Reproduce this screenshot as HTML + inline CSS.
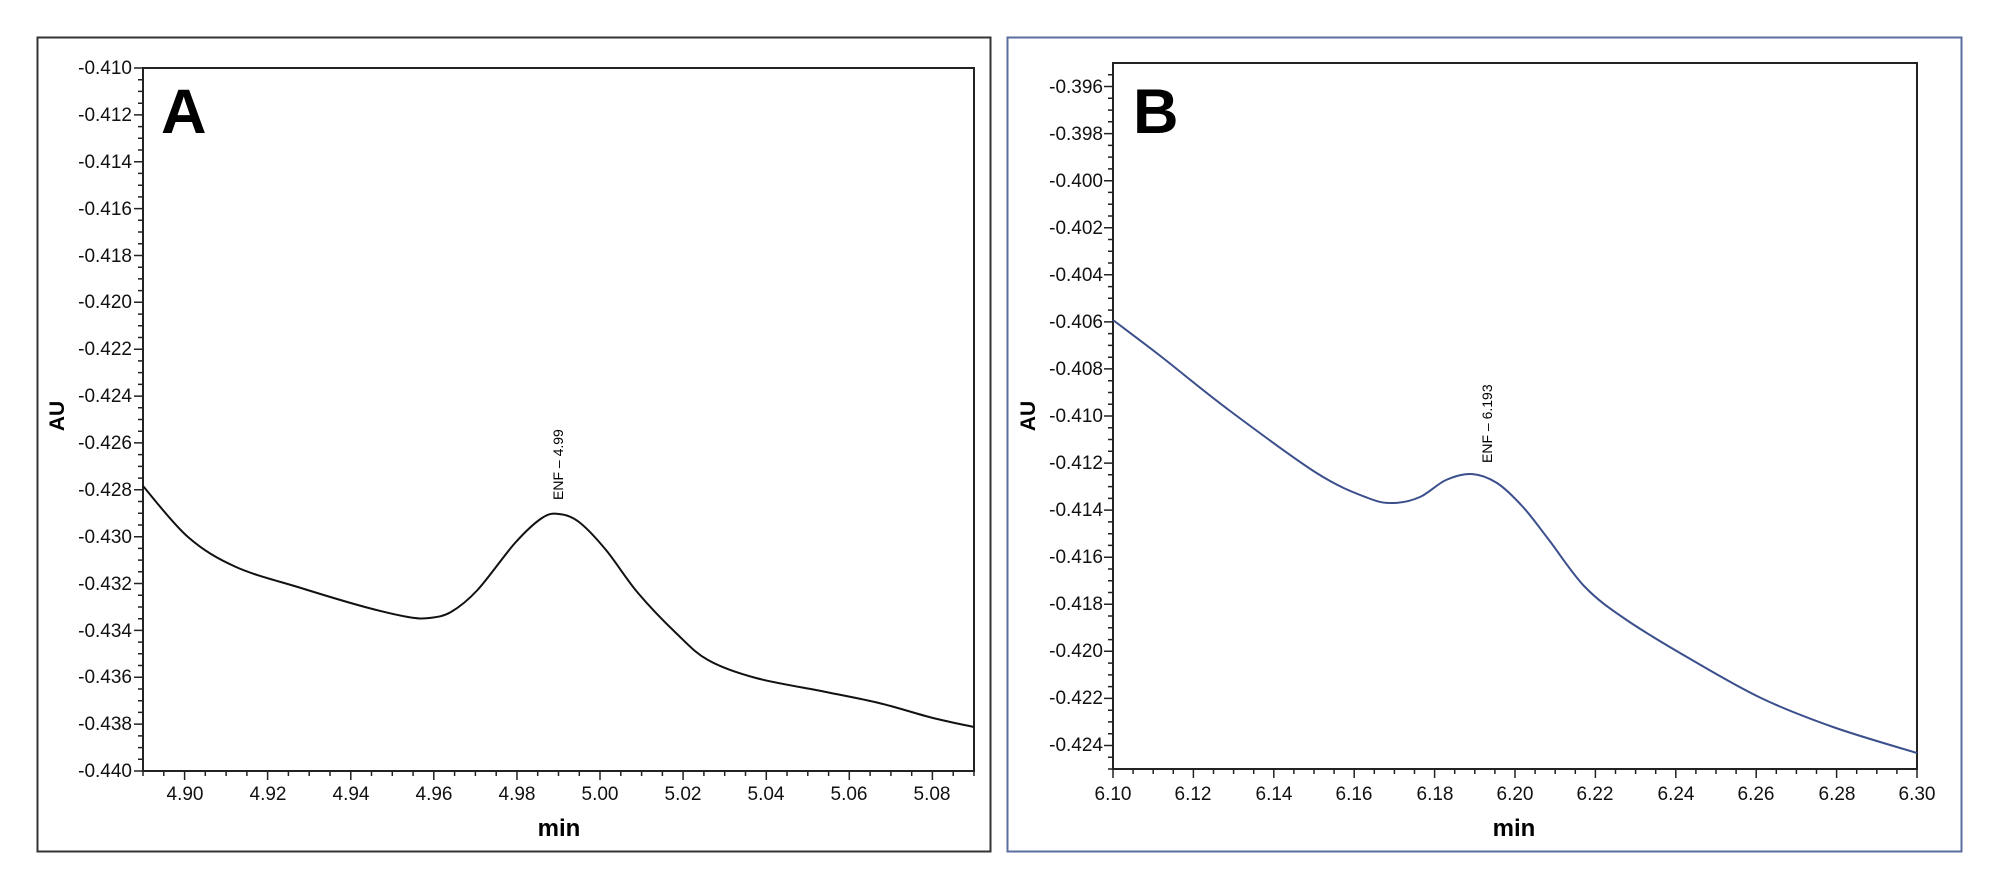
<!DOCTYPE html>
<html><head><meta charset="utf-8"><style>
html,body{margin:0;padding:0;background:#fff;}
svg{display:block;font-family:"Liberation Sans",Arial,sans-serif;}
.t{font-size:19px;fill:#111;}
</style></head><body>
<svg id="s" width="2000" height="895" viewBox="0 0 2000 895" xmlns="http://www.w3.org/2000/svg">
<rect x="0" y="0" width="2000" height="895" fill="#fff"/>
<rect x="37.5" y="37.5" width="953" height="814" fill="none" stroke="#333" stroke-width="2"/>
<rect x="1007.5" y="37.5" width="954" height="814" fill="none" stroke="#5a6e9e" stroke-width="2"/>
<rect x="143" y="68" width="831" height="703" fill="none" stroke="#222" stroke-width="2"/>
<rect x="1113" y="63" width="804" height="706" fill="none" stroke="#222" stroke-width="2"/>
<g id="ticks" stroke="#222" stroke-width="1.5"></g>
<path id="ca" fill="none" stroke="#111" stroke-width="2"/>
<path id="cb" fill="none" stroke="#3b4f8c" stroke-width="2"/>
<text x="161" y="133" font-size="63" font-weight="bold" fill="#000">A</text>
<text x="1133" y="133" font-size="63" font-weight="bold" fill="#000">B</text>
<text transform="translate(64,416) rotate(-90)" text-anchor="middle" font-size="21" font-weight="bold">AU</text>
<text transform="translate(1035,416) rotate(-90)" text-anchor="middle" font-size="21" font-weight="bold">AU</text>
<text x="559" y="836" text-anchor="middle" font-size="24" font-weight="bold">min</text>
<text x="1514" y="836" text-anchor="middle" font-size="24" font-weight="bold">min</text>
<text transform="translate(563,500) rotate(-90)" font-size="14">ENF – 4.99</text>
<text transform="translate(1492,463) rotate(-90)" font-size="14">ENF – 6.193</text>
<g class="t" text-anchor="end">
<text x="132" y="74">-0.410</text>
<text x="132" y="121">-0.412</text>
<text x="132" y="168">-0.414</text>
<text x="132" y="215">-0.416</text>
<text x="132" y="262">-0.418</text>
<text x="132" y="308">-0.420</text>
<text x="132" y="355">-0.422</text>
<text x="132" y="402">-0.424</text>
<text x="132" y="449">-0.426</text>
<text x="132" y="496">-0.428</text>
<text x="132" y="543">-0.430</text>
<text x="132" y="590">-0.432</text>
<text x="132" y="637">-0.434</text>
<text x="132" y="683">-0.436</text>
<text x="132" y="730">-0.438</text>
<text x="132" y="777">-0.440</text>
<text x="1103" y="93">-0.396</text>
<text x="1103" y="140">-0.398</text>
<text x="1103" y="187">-0.400</text>
<text x="1103" y="234">-0.402</text>
<text x="1103" y="281">-0.404</text>
<text x="1103" y="328">-0.406</text>
<text x="1103" y="375">-0.408</text>
<text x="1103" y="422">-0.410</text>
<text x="1103" y="469">-0.412</text>
<text x="1103" y="516">-0.414</text>
<text x="1103" y="563">-0.416</text>
<text x="1103" y="610">-0.418</text>
<text x="1103" y="657">-0.420</text>
<text x="1103" y="704">-0.422</text>
<text x="1103" y="751">-0.424</text>
</g>
<g class="t" text-anchor="middle">
<text x="185" y="800">4.90</text>
<text x="268" y="800">4.92</text>
<text x="351" y="800">4.94</text>
<text x="434" y="800">4.96</text>
<text x="517" y="800">4.98</text>
<text x="600" y="800">5.00</text>
<text x="683" y="800">5.02</text>
<text x="766" y="800">5.04</text>
<text x="849" y="800">5.06</text>
<text x="932" y="800">5.08</text>
<text x="1113" y="800">6.10</text>
<text x="1193" y="800">6.12</text>
<text x="1274" y="800">6.14</text>
<text x="1354" y="800">6.16</text>
<text x="1435" y="800">6.18</text>
<text x="1515" y="800">6.20</text>
<text x="1595" y="800">6.22</text>
<text x="1676" y="800">6.24</text>
<text x="1756" y="800">6.26</text>
<text x="1837" y="800">6.28</text>
<text x="1917" y="800">6.30</text>
</g>
</svg>
<script>
var d="";
function yt(x,y0,y1,step,startMajor){
  var n=Math.round((y1-y0)/step);
  for(var i=0;i<=n;i++){var y=y0+i*step;var maj=((i-startMajor)%4===0);d+="M"+(x-(maj?9:5))+" "+y.toFixed(1)+"H"+x;}
}
function xt(y,x0,x1,step,startMajor){
  var n=Math.round((x1-x0)/step);
  for(var i=0;i<=n;i++){var x=x0+i*step;var maj=((i-startMajor)%4===0);d+="M"+x.toFixed(1)+" "+y+"v"+(maj?9:5);}
}
yt(143,68,771,703/60,0);
xt(771,143,974,831/40,2);
yt(1113,63+706/60*2,769,706/60,0);
d+="M1108 "+(63+706/60)+"H1113";
xt(769,1113,1917,804/40,0);
document.getElementById("ticks").innerHTML='<path d="'+d+'"/>';
function cr(p){var s="M"+p[0][0]+" "+p[0][1];
 for(var i=0;i<p.length-1;i++){var a=p[Math.max(0,i-1)],b=p[i],c=p[i+1],e=p[Math.min(p.length-1,i+2)];
  s+="C"+(b[0]+(c[0]-a[0])/6).toFixed(1)+" "+(b[1]+(c[1]-a[1])/6).toFixed(1)+" "+(c[0]-(e[0]-b[0])/6).toFixed(1)+" "+(c[1]-(e[1]-b[1])/6).toFixed(1)+" "+c[0]+" "+c[1];}
 return s;}
var A=[[143,486],[188,537],[236,567],[301,588],[365,607],[408,617],[429,618],[451,612],[477.5,590],[515,543],[542,518],[559,514],[579,522],[606,550],[638,593],[676,633],[708,660],[756,678],[826,692],[879,703],[933,718],[974,727]];
var B=[[1113,320],[1161.7,357],[1228.8,410],[1316.6,473],[1368,498],[1394,503],[1420,497],[1446,480],[1471.6,474],[1497,483],[1523,507],[1549,540],[1585,587],[1626.6,620],[1688.6,658],[1761,698],[1833,727],[1917,753]];
document.getElementById("ca").setAttribute("d",cr(A));
document.getElementById("cb").setAttribute("d",cr(B));
</script>
</body></html>
